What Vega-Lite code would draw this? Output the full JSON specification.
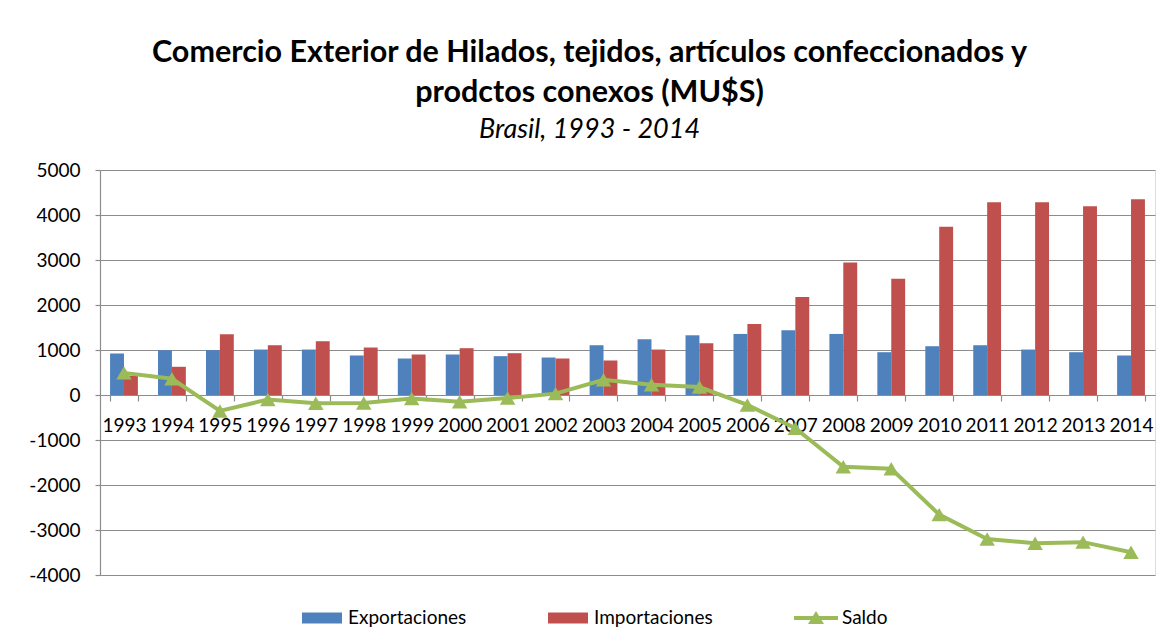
{
  "$schema": "https://vega.github.io/schema/vega-lite/v6.json",
  "width": 1055,
  "height": 405,
  "autosize": {"type": "none"},
  "padding": {"left": 100, "top": 170, "right": 9, "bottom": 68},
  "background": "white",
  "title": {
    "text": ["Comercio Exterior de Hilados, tejidos, artículos confeccionados y", "prodctos conexos (MU$S)"],
    "subtitle": "Brasil, 1993 - 2014",
    "anchor": "middle",
    "frame": "group",
    "dx": -38,
    "font": "Lato",
    "fontSize": 30.5,
    "fontWeight": "bold",
    "color": "#000000",
    "lineHeight": 40,
    "subtitleFont": "Lato",
    "subtitleFontSize": 27,
    "subtitleFontStyle": "italic",
    "subtitleColor": "#000000",
    "subtitlePadding": 9,
    "offset": 18
  },
  "data": {
    "values": [
      {"year": 1993, "serie": "Exportaciones", "value": 922},
      {"year": 1994, "serie": "Exportaciones", "value": 996},
      {"year": 1995, "serie": "Exportaciones", "value": 996},
      {"year": 1996, "serie": "Exportaciones", "value": 1010},
      {"year": 1997, "serie": "Exportaciones", "value": 1010},
      {"year": 1998, "serie": "Exportaciones", "value": 878},
      {"year": 1999, "serie": "Exportaciones", "value": 811},
      {"year": 2000, "serie": "Exportaciones", "value": 900},
      {"year": 2001, "serie": "Exportaciones", "value": 863},
      {"year": 2002, "serie": "Exportaciones", "value": 833},
      {"year": 2003, "serie": "Exportaciones", "value": 1106},
      {"year": 2004, "serie": "Exportaciones", "value": 1239},
      {"year": 2005, "serie": "Exportaciones", "value": 1327},
      {"year": 2006, "serie": "Exportaciones", "value": 1357},
      {"year": 2007, "serie": "Exportaciones", "value": 1438},
      {"year": 2008, "serie": "Exportaciones", "value": 1357},
      {"year": 2009, "serie": "Exportaciones", "value": 951},
      {"year": 2010, "serie": "Exportaciones", "value": 1084},
      {"year": 2011, "serie": "Exportaciones", "value": 1106},
      {"year": 2012, "serie": "Exportaciones", "value": 1010},
      {"year": 2013, "serie": "Exportaciones", "value": 951},
      {"year": 2014, "serie": "Exportaciones", "value": 878},
      {"year": 1993, "serie": "Importaciones", "value": 430},
      {"year": 1994, "serie": "Importaciones", "value": 627},
      {"year": 1995, "serie": "Importaciones", "value": 1350},
      {"year": 1996, "serie": "Importaciones", "value": 1106},
      {"year": 1997, "serie": "Importaciones", "value": 1195},
      {"year": 1998, "serie": "Importaciones", "value": 1055},
      {"year": 1999, "serie": "Importaciones", "value": 900},
      {"year": 2000, "serie": "Importaciones", "value": 1040},
      {"year": 2001, "serie": "Importaciones", "value": 929},
      {"year": 2002, "serie": "Importaciones", "value": 811},
      {"year": 2003, "serie": "Importaciones", "value": 767},
      {"year": 2004, "serie": "Importaciones", "value": 1010},
      {"year": 2005, "serie": "Importaciones", "value": 1150},
      {"year": 2006, "serie": "Importaciones", "value": 1578},
      {"year": 2007, "serie": "Importaciones", "value": 2176},
      {"year": 2008, "serie": "Importaciones", "value": 2942},
      {"year": 2009, "serie": "Importaciones", "value": 2581},
      {"year": 2010, "serie": "Importaciones", "value": 3739},
      {"year": 2011, "serie": "Importaciones", "value": 4285},
      {"year": 2012, "serie": "Importaciones", "value": 4285},
      {"year": 2013, "serie": "Importaciones", "value": 4196},
      {"year": 2014, "serie": "Importaciones", "value": 4351},
      {"year": 1993, "serie": "Saldo", "value": 492},
      {"year": 1994, "serie": "Saldo", "value": 360},
      {"year": 1995, "serie": "Saldo", "value": -355},
      {"year": 1996, "serie": "Saldo", "value": -100},
      {"year": 1997, "serie": "Saldo", "value": -185},
      {"year": 1998, "serie": "Saldo", "value": -177},
      {"year": 1999, "serie": "Saldo", "value": -80},
      {"year": 2000, "serie": "Saldo", "value": -150},
      {"year": 2001, "serie": "Saldo", "value": -66},
      {"year": 2002, "serie": "Saldo", "value": 30},
      {"year": 2003, "serie": "Saldo", "value": 339},
      {"year": 2004, "serie": "Saldo", "value": 229},
      {"year": 2005, "serie": "Saldo", "value": 177},
      {"year": 2006, "serie": "Saldo", "value": -221},
      {"year": 2007, "serie": "Saldo", "value": -738},
      {"year": 2008, "serie": "Saldo", "value": -1595},
      {"year": 2009, "serie": "Saldo", "value": -1640},
      {"year": 2010, "serie": "Saldo", "value": -2658},
      {"year": 2011, "serie": "Saldo", "value": -3200},
      {"year": 2012, "serie": "Saldo", "value": -3295},
      {"year": 2013, "serie": "Saldo", "value": -3270},
      {"year": 2014, "serie": "Saldo", "value": -3495}
    ]
  },
  "encoding": {
    "x": {
      "field": "year",
      "type": "ordinal",
      "scale": {"paddingInner": 0.42, "paddingOuter": 0.21},
      "axis": {
        "title": null,
        "offset": -180,
        "labelAngle": 0,
        "labelFont": "Lato",
        "labelFontSize": 19,
        "labelColor": "#000000",
        "labelPadding": 15,
        "tickBand": "extent",
        "tickSize": 6,
        "tickColor": "#8c8c8c",
        "tickWidth": 1.2,
        "domainColor": "#8c8c8c",
        "domainWidth": 1.2,
        "grid": false,
        "labelOverlap": false
      }
    },
    "y": {
      "field": "value",
      "type": "quantitative",
      "scale": {"domain": [-4000, 5000], "nice": false, "zero": false},
      "axis": {
        "title": null,
        "values": [-4000, -3000, -2000, -1000, 0, 1000, 2000, 3000, 4000, 5000],
        "labelExpr": "'' + datum.value",
        "labelFont": "Lato",
        "labelFontSize": 19,
        "labelColor": "#000000",
        "labelPadding": 15,
        "tickSize": 5,
        "tickColor": "#8c8c8c",
        "tickWidth": 1.2,
        "domainColor": "#8c8c8c",
        "domainWidth": 1.2,
        "gridColor": "#8c8c8c",
        "gridWidth": 1.2
      }
    }
  },
  "layer": [
    {
      "transform": [{"filter": "datum.serie !== 'Saldo'"}],
      "mark": {"type": "bar"},
      "encoding": {
        "xOffset": {"field": "serie", "type": "nominal", "scale": {"domain": ["Exportaciones", "Importaciones"]}},
        "color": {
          "field": "serie",
          "type": "nominal",
          "scale": {"domain": ["Exportaciones", "Importaciones", "Saldo"], "range": ["#4F81BD", "#C0504D", "#9BBB59"]},
          "legend": {
            "title": null,
            "orient": "none",
            "direction": "horizontal",
            "legendX": 202,
            "legendY": 428,
            "labelFont": "Lato",
            "labelFontSize": 19,
            "labelColor": "#000000",
            "labelOffset": 6,
            "columnPadding": 81,
            "symbolSize": 1600,
            "symbolStrokeWidth": 0,
            "symbolOpacity": 1,
            "encode": {
              "symbols": {
                "update": {
                  "shape": {"signal": "datum.value === 'Saldo' ? 'M-1.1,-0.1H1.1V0.1H-1.1Z M-0.4,0.3L0,-0.35L0.4,0.3Z' : 'M-1,-0.27H1V0.27H-1Z'"},
                  "fill": {"signal": "scale('color', datum.value)"},
                  "strokeWidth": {"value": 0},
                  "opacity": {"value": 1}
                }
              }
            }
          }
        }
      }
    },
    {
      "transform": [{"filter": "datum.serie === 'Saldo'"}],
      "mark": {"type": "line", "strokeWidth": 4, "point": {"shape": "triangle-up", "size": 240, "filled": true, "opacity": 1}},
      "encoding": {
        "color": {"field": "serie", "type": "nominal"}
      }
    }
  ]
}
